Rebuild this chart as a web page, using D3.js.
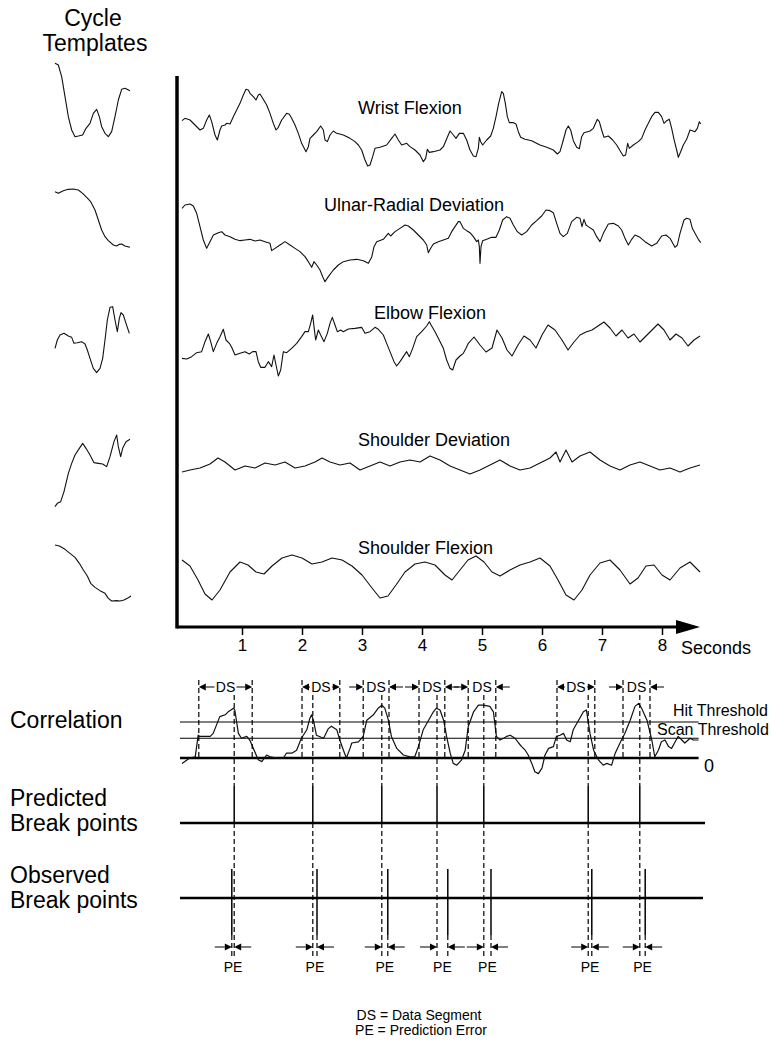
<!DOCTYPE html>
<html><head><meta charset="utf-8">
<script src="https://cdn.jsdelivr.net/npm/d3@7"></script>
<style>body{margin:0;background:#fff} svg{display:block} text{font-family:"Liberation Sans",Arial,sans-serif;fill:#000}</style>
</head><body><svg id="c" width="771" height="1045"></svg>
<script>
// ---------- DATA ----------
const SAMPLE_RATE = 180;               // samples per second of the joint-angle traces
const secondsTicks = [1,2,3,4,5,6,7,8];
const traceNames = ["Wrist Flexion","Ulnar-Radial Deviation","Elbow Flexion","Shoulder Deviation","Shoulder Flexion"];

// [sample, value] joint-angle traces (arbitrary units)
const wristFlexion = [[0,88],[9,95],[24,90],[39,75],[54,60],[64,65],[74,90],[82,105],[89,85],[99,45],[106,30],[114,60],[119,72],[129,75],[134,80],[144,78],[154,100],[164,120],[174,140],[184,165],[192,182],[199,180],[204,170],[214,160],[222,150],[229,165],[234,168],[242,155],[254,135],[264,110],[274,80],[282,60],[289,68],[299,90],[314,110],[322,107],[329,95],[339,75],[349,50],[359,20],[372,-5],[379,10],[384,35],[394,45],[404,55],[416,72],[424,60],[429,30],[436,25],[444,45],[454,57],[464,50],[484,45],[504,35],[519,25],[529,15],[539,0],[549,-30],[557,-48],[564,-45],[572,-20],[579,5],[594,8],[614,15],[629,35],[639,48],[649,30],[659,15],[674,20],[684,10],[699,0],[714,-15],[724,-35],[731,-25],[736,2],[742,-7],[754,-5],[774,0],[784,10],[796,38],[804,57],[814,45],[822,35],[832,50],[844,50],[854,30],[864,0],[874,-18],[882,-20],[889,5],[892,38],[896,25],[902,15],[914,30],[926,42],[934,65],[942,100],[950,140],[959,175],[964,170],[970,140],[976,100],[982,82],[994,82],[1002,78],[1009,55],[1016,38],[1029,32],[1049,28],[1074,15],[1094,8],[1114,0],[1126,-12],[1134,-5],[1144,30],[1152,60],[1159,72],[1166,60],[1174,28],[1184,8],[1192,4],[1199,40],[1206,52],[1224,57],[1234,65],[1246,92],[1252,85],[1259,60],[1266,38],[1279,42],[1292,30],[1304,15],[1316,-5],[1324,-18],[1331,-15],[1337,20],[1342,5],[1354,15],[1369,25],[1379,35],[1389,60],[1399,80],[1409,100],[1419,113],[1429,113],[1439,100],[1446,80],[1454,88],[1462,92],[1469,65],[1476,32],[1484,0],[1489,-22],[1496,-5],[1504,15],[1514,32],[1524,60],[1531,58],[1539,55],[1546,65],[1552,85],[1556,78]];

const ulnarRadial = [[0,215],[9,225],[24,228],[34,222],[44,200],[54,160],[64,120],[74,95],[84,115],[94,135],[109,142],[119,145],[129,135],[144,130],[159,122],[174,118],[189,120],[204,122],[219,117],[234,120],[249,115],[264,110],[269,88],[279,95],[294,105],[309,115],[324,105],[339,95],[354,85],[369,70],[379,55],[389,38],[396,55],[404,45],[414,30],[424,5],[429,-5],[439,10],[454,30],[469,45],[484,55],[504,60],[524,62],[544,58],[559,50],[569,68],[576,100],[584,115],[604,122],[619,140],[626,132],[639,145],[654,155],[669,165],[679,162],[694,150],[709,135],[724,120],[734,105],[739,82],[746,95],[754,108],[769,115],[784,120],[799,125],[809,145],[819,160],[829,175],[834,175],[844,155],[854,148],[864,142],[874,130],[884,115],[889,120],[892,100],[894,50],[897,100],[902,118],[914,122],[929,128],[942,128],[952,150],[962,180],[974,190],[984,185],[994,165],[1006,145],[1019,135],[1034,145],[1049,165],[1064,178],[1079,192],[1092,210],[1104,208],[1114,202],[1124,170],[1134,140],[1144,130],[1156,140],[1169,175],[1184,188],[1194,185],[1200,160],[1206,182],[1212,165],[1219,160],[1234,150],[1244,130],[1254,115],[1264,140],[1279,168],[1294,170],[1309,162],[1319,150],[1329,125],[1339,105],[1349,122],[1359,135],[1374,128],[1389,115],[1409,102],[1424,110],[1439,132],[1452,135],[1464,125],[1479,98],[1486,105],[1494,140],[1506,180],[1514,185],[1524,182],[1531,155],[1539,140],[1549,122],[1556,112]];

const elbowFlexion = [[0,95],[14,93],[29,100],[44,112],[59,115],[69,145],[79,168],[86,145],[94,115],[104,140],[114,160],[124,182],[132,150],[142,140],[149,128],[159,105],[174,110],[189,115],[202,108],[212,115],[222,115],[229,85],[236,68],[249,68],[259,85],[269,70],[276,105],[282,75],[289,42],[296,60],[304,115],[314,112],[329,125],[344,140],[359,160],[369,175],[379,175],[386,200],[392,225],[396,190],[401,150],[409,180],[416,165],[426,145],[436,170],[444,200],[451,218],[459,195],[466,175],[476,180],[484,175],[499,183],[519,185],[539,188],[549,170],[564,175],[579,188],[589,182],[604,165],[614,140],[624,115],[636,85],[644,72],[654,85],[664,100],[674,115],[682,100],[692,125],[704,160],[719,175],[734,192],[742,205],[749,192],[759,175],[769,155],[784,125],[794,90],[804,65],[812,60],[822,90],[834,102],[844,110],[852,125],[859,140],[876,159],[894,135],[912,114],[930,126],[945,180],[960,156],[975,120],[990,102],[1008,135],[1026,162],[1044,150],[1062,126],[1080,165],[1098,195],[1119,180],[1140,150],[1158,120],[1176,144],[1194,165],[1212,174],[1230,180],[1248,192],[1266,204],[1284,186],[1302,162],[1320,180],[1338,156],[1356,168],[1374,144],[1392,162],[1410,180],[1428,198],[1446,180],[1464,150],[1482,168],[1500,156],[1518,132],[1536,150],[1554,162]];

const shoulderDeviation = [[0,84],[24,90],[54,96],[84,108],[108,126],[129,114],[159,90],[189,102],[219,96],[249,111],[279,105],[309,114],[339,96],[369,102],[399,114],[420,126],[444,114],[474,105],[504,111],[534,90],[564,102],[594,114],[624,102],[654,114],[684,120],[714,114],[744,132],[774,120],[804,102],[834,90],[864,78],[894,90],[924,105],[954,120],[984,102],[1014,90],[1044,96],[1074,111],[1104,126],[1122,144],[1134,114],[1152,150],[1170,114],[1194,132],[1224,144],[1254,120],[1284,102],[1314,90],[1344,105],[1374,114],[1404,102],[1434,90],[1464,96],[1494,84],[1524,96],[1554,105]];

const shoulderFlexion = [[0,150],[24,132],[48,90],[69,48],[90,30],[114,60],[144,114],[174,144],[198,135],[222,114],[246,108],[270,132],[300,156],[330,165],[360,156],[390,138],[420,144],[450,156],[480,150],[510,132],[540,105],[570,66],[594,36],[618,42],[642,75],[669,114],[699,138],[729,144],[759,135],[789,105],[810,90],[834,120],[858,150],[882,162],[906,144],[930,114],[954,102],[984,120],[1014,135],[1044,144],[1074,156],[1104,132],[1128,90],[1152,45],[1176,30],[1200,60],[1224,105],[1254,141],[1284,150],[1314,120],[1344,78],[1368,96],[1392,132],[1416,135],[1440,105],[1464,90],[1494,126],[1524,144],[1554,114]];

// cycle templates: [cycle sample (0-225), value]
const templateWrist = [[0,260],[10,255],[20,220],[30,160],[40,100],[50,60],[60,40],[70,42],[83,45],[93,65],[105,80],[115,110],[125,122],[133,100],[140,70],[150,50],[160,40],[170,55],[180,100],[190,150],[200,182],[210,185],[225,178]];
const templateUlnar = [[0,265],[10,260],[25,268],[40,272],[55,273],[70,270],[83,260],[95,248],[107,235],[120,210],[130,180],[140,150],[150,130],[160,118],[175,105],[185,102],[193,107],[200,108],[210,102],[225,98]];
const templateElbow = [[0,125],[7,150],[15,165],[27,170],[40,162],[50,158],[57,140],[67,142],[80,145],[90,138],[97,120],[105,95],[115,65],[125,52],[135,65],[143,95],[150,150],[157,210],[165,248],[173,250],[180,210],[187,175],[193,215],[198,232],[205,225],[213,200],[223,170]];
const templateShoulderDev = [[0,40],[7,50],[17,55],[27,85],[40,140],[50,170],[60,195],[73,215],[83,230],[93,215],[105,195],[117,172],[130,170],[143,168],[155,160],[165,190],[177,235],[185,255],[190,220],[197,190],[203,215],[213,235],[225,242]];
const templateShoulderFlex = [[0,255],[13,252],[30,242],[45,230],[60,218],[73,200],[85,180],[97,162],[107,140],[120,128],[135,118],[150,110],[160,95],[170,87],[185,88],[195,87],[207,90],[220,97],[228,102]];

// correlation [seconds, r]
const correlation = [[0.00,-0.09],[0.13,0.00],[0.22,0.02],[0.27,0.38],[0.30,0.36],[0.47,0.36],[0.52,0.41],[0.63,0.69],[0.72,0.72],[0.77,0.77],[0.86,0.83],[0.88,0.80],[0.94,0.41],[0.99,0.33],[1.08,0.36],[1.13,0.30],[1.27,-0.03],[1.33,-0.06],[1.41,0.05],[1.47,0.02],[1.58,0.00],[1.69,0.00],[1.74,0.08],[1.83,0.08],[1.91,0.13],[1.99,0.33],[2.08,0.47],[2.13,0.66],[2.16,0.72],[2.19,0.63],[2.24,0.38],[2.36,0.33],[2.44,0.49],[2.49,0.53],[2.58,0.47],[2.63,0.30],[2.69,0.13],[2.74,0.00],[2.80,0.16],[2.83,0.25],[2.94,0.27],[3.02,0.36],[3.08,0.63],[3.19,0.72],[3.27,0.83],[3.33,0.88],[3.38,0.83],[3.44,0.63],[3.49,0.36],[3.58,0.16],[3.69,0.05],[3.80,0.02],[3.88,0.02],[3.94,0.19],[4.02,0.47],[4.11,0.63],[4.19,0.77],[4.24,0.83],[4.30,0.80],[4.36,0.63],[4.41,0.36],[4.47,0.08],[4.52,-0.09],[4.58,-0.12],[4.66,-0.03],[4.72,0.13],[4.77,0.52],[4.86,0.77],[4.94,0.88],[5.02,0.88],[5.13,0.86],[5.19,0.77],[5.24,0.36],[5.30,0.30],[5.36,0.33],[5.41,0.36],[5.47,0.38],[5.55,0.33],[5.61,0.25],[5.66,0.19],[5.72,0.13],[5.77,0.05],[5.83,-0.09],[5.88,-0.23],[5.94,-0.26],[6.00,-0.17],[6.05,0.05],[6.11,0.16],[6.19,0.19],[6.24,0.36],[6.30,0.38],[6.36,0.41],[6.41,0.30],[6.47,0.27],[6.52,0.47],[6.61,0.63],[6.69,0.77],[6.74,0.80],[6.80,0.41],[6.86,0.13],[6.94,-0.03],[7.02,-0.12],[7.08,-0.09],[7.16,-0.12],[7.22,0.08],[7.30,0.25],[7.38,0.41],[7.47,0.63],[7.55,0.86],[7.61,0.91],[7.66,0.83],[7.75,0.63],[7.83,0.30],[7.88,0.02],[7.94,0.13],[7.99,0.27],[8.05,0.30],[8.11,0.19],[8.16,0.16],[8.22,0.27],[8.27,0.36],[8.33,0.30],[8.38,0.25],[8.47,0.33],[8.52,0.30],[8.61,0.30]];
const hitThreshold = 0.6;
const scanThreshold = 0.33;
const dataSegments = [[0.28,1.17],[2.00,2.63],[3.02,3.45],[3.95,4.38],[4.77,5.23],[6.25,6.88],[7.35,7.80]];
const predictedBreaks = [0.87,2.18,3.33,4.25,5.03,6.77,7.63];
const observedBreaks  = [0.83,2.25,3.43,4.43,5.15,6.83,7.72];

// ---------- DRAWING ----------
const svg = d3.select("#c");
const FONT = '"Liberation Sans",Arial,sans-serif';
const x = d3.scaleLinear().domain([0,8]).range([182,662]);
const xs = s => x(s / SAMPLE_RATE);

// trace bands
const traceData = [wristFlexion, ulnarRadial, elbowFlexion, shoulderDeviation, shoulderFlexion];
const bandTops = [50,180,290,400,510];
const labelPos = [[358,114],[324,211],[374,319],[358,446],[358,554]];
traceData.forEach((data,i)=>{
  const y = d3.scaleLinear().domain([0,300]).range([bandTops[i]+100, bandTops[i]]);
  svg.append("path").datum(data)
    .attr("d", d3.line().x(d=>xs(d[0])).y(d=>y(d[1])))
    .attr("fill","none").attr("stroke","#111").attr("stroke-width",1.1).attr("stroke-linejoin","round");
  svg.append("text").attr("x",labelPos[i][0]).attr("y",labelPos[i][1])
    .attr("font-size",18).text(traceNames[i]);
});

// templates
const templates = [templateWrist, templateUlnar, templateElbow, templateShoulderDev, templateShoulderFlex];
const tBand = [50,180,290,420,530];
const xt = d3.scaleLinear().domain([0,225]).range([55,130]);
templates.forEach((data,i)=>{
  const y = d3.scaleLinear().domain([0,300]).range([tBand[i]+100, tBand[i]]);
  svg.append("path").datum(data)
    .attr("d", d3.line().x(d=>xt(d[0])).y(d=>y(d[1])))
    .attr("fill","none").attr("stroke","#111").attr("stroke-width",1.1).attr("stroke-linejoin","round");
});
svg.append("text").attr("x",93).attr("y",26).attr("text-anchor","middle").attr("font-size",23).text("Cycle");
svg.append("text").attr("x",95).attr("y",51).attr("text-anchor","middle").attr("font-size",23).text("Templates");

// axes
const axisY = 627;
const axis = d3.axisBottom(x).tickValues(secondsTicks).tickSize(8).tickPadding(4).tickFormat(d3.format("d"));
const ag = svg.append("g").attr("transform",`translate(0,${axisY})`).call(axis);
ag.select(".domain").remove();
ag.selectAll(".tick line").attr("stroke","#000").attr("stroke-width",1.5);
ag.selectAll(".tick text").attr("font-size",17).attr("font-family",FONT).attr("fill","#000");
svg.append("line").attr("x1",177).attr("x2",680).attr("y1",axisY).attr("y2",axisY).attr("stroke","#000").attr("stroke-width",3);
svg.append("line").attr("x1",177).attr("x2",177).attr("y1",76).attr("y2",axisY+1.5).attr("stroke","#000").attr("stroke-width",3.5);
svg.append("path").attr("d",`M676,${axisY-7}L700,${axisY}L676,${axisY+7}Z`).attr("fill","#000");
svg.append("text").attr("x",681).attr("y",654).attr("font-size",18).text("Seconds");

// correlation
const yc = d3.scaleLinear().domain([0,1]).range([758,698]);
const cExt = d3.extent(correlation, d=>d[0]);
const hline = (v,w)=>svg.append("line").attr("x1",x(cExt[0])-2).attr("x2",x(cExt[1])).attr("y1",yc(v)).attr("y2",yc(v)).attr("stroke","#000").attr("stroke-width",w);
hline(hitThreshold,1.1); hline(scanThreshold,1.1); hline(0,2.6);
svg.append("path").datum(correlation)
  .attr("d", d3.line().x(d=>x(d[0])).y(d=>yc(d[1])))
  .attr("fill","none").attr("stroke","#111").attr("stroke-width",1.2).attr("stroke-linejoin","round");
svg.append("text").attr("x",673).attr("y",716).attr("font-size",16).text("Hit Threshold");
svg.append("text").attr("x",657).attr("y",735).attr("font-size",16).text("Scan Threshold");
svg.append("text").attr("x",704).attr("y",772).attr("font-size",18).text("0");

svg.append("text").attr("x",10).attr("y",728).attr("font-size",23).text("Correlation");
svg.append("text").attr("x",10).attr("y",806).attr("font-size",23).text("Predicted");
svg.append("text").attr("x",10).attr("y",831).attr("font-size",23).text("Break points");
svg.append("text").attr("x",10).attr("y",883).attr("font-size",23).text("Observed");
svg.append("text").attr("x",10).attr("y",908).attr("font-size",23).text("Break points");

function vline(xp,y1,y2,dash,w){
  svg.append("line").attr("x1",xp).attr("x2",xp).attr("y1",y1).attr("y2",y2)
    .attr("stroke","#000").attr("stroke-width",w||1).attr("stroke-dasharray",dash?"5,3":null);
}
function arrow(xTip,y,dir,len){ // dir +1 points right, -1 points left
  const L=7,H=3.5;
  svg.append("path").attr("d",`M${xTip},${y}L${xTip-dir*L},${y-H}L${xTip-dir*L},${y+H}Z`).attr("fill","#000");
  if(len>L) svg.append("line").attr("x1",xTip-dir*len).attr("x2",xTip-dir*L).attr("y1",y).attr("y2",y).attr("stroke","#000").attr("stroke-width",1);
}

// data segments
const dsY = 687;
dataSegments.forEach(([a,b])=>{
  const xa=x(a), xb=x(b), cx=(xa+xb)/2;
  vline(xa,680,758,true,1.2); vline(xb,680,758,true,1.2);
  svg.append("text").attr("x",cx).attr("y",dsY+5).attr("text-anchor","middle").attr("font-size",14).text("DS");
  if(xb-xa>32){
    arrow(xa,dsY,-1,cx-11-xa); arrow(xb,dsY,1,xb-cx-11);
  } else {
    arrow(xa,dsY,1,14); arrow(xb,dsY,-1,14);
  }
});

// break point baselines
const predY = 823, obsY = 898;
svg.append("line").attr("x1",180).attr("x2",705).attr("y1",predY).attr("y2",predY).attr("stroke","#000").attr("stroke-width",2.5);
svg.append("line").attr("x1",180).attr("x2",703).attr("y1",obsY).attr("y2",obsY).attr("stroke","#000").attr("stroke-width",2.5);

predictedBreaks.forEach(t=>{
  const xp=x(t);
  vline(xp,695,786,true,1.2);
  vline(xp,786,predY,false,1.5);
  vline(xp,predY,958,true,1.2);
});
observedBreaks.forEach(t=>{
  const xp=x(t);
  vline(xp,869,935,false,1.5);
  vline(xp,935,958,true,1.2);
});
// prediction errors
const peY = 947;
predictedBreaks.forEach((p,i)=>{
  const a=x(Math.min(p,observedBreaks[i])), b=x(Math.max(p,observedBreaks[i]));
  arrow(a,peY,1,17); arrow(b,peY,-1,17);
  svg.append("text").attr("x",(a+b)/2).attr("y",972).attr("text-anchor","middle").attr("font-size",14).text("PE");
});

svg.append("text").attr("x",419).attr("y",1020).attr("text-anchor","middle").attr("font-size",14).text("DS = Data Segment");
svg.append("text").attr("x",421).attr("y",1035).attr("text-anchor","middle").attr("font-size",14).text("PE = Prediction Error");
</script></body></html>
